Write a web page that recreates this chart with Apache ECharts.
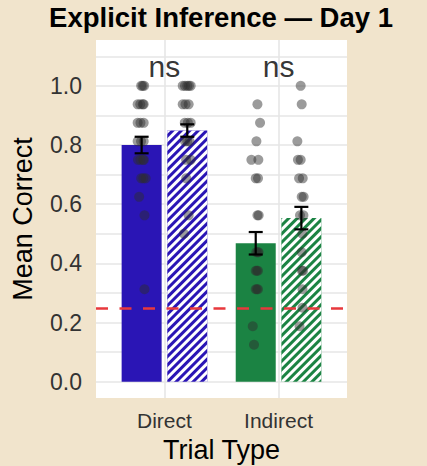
<!DOCTYPE html>
<html>
<head>
<meta charset="utf-8">
<script src="https://cdn.jsdelivr.net/npm/echarts@6/dist/echarts.min.js"></script>
<style>
html,body{margin:0;padding:0;background:#F1E4CC;}
#chart{width:427px;height:466px;}
</style>
</head>
<body>
<div id="chart"></div>
<script>
// ---------- data ----------
const categories = ['Direct', 'Indirect'];
const meanSolid   = [0.800, 0.468];
const seSolid     = [0.028, 0.038];
const meanHatched = [0.849, 0.553];
const seHatched   = [0.021, 0.038];
const chanceLevel = 0.25;
const sigLabels = ['ns', 'ns'];
const sigY = 1.064;
const yTickLabels = [0.0, 0.2, 0.4, 0.6, 0.8, 1.0];
const yGrid = [0.0, 0.1, 0.2, 0.3, 0.4, 0.5, 0.6, 0.7, 0.8, 0.9, 1.0, 1.1];

// individual participant scores (with horizontal jitter, in category units)
const directSolidScores  = [1,1,1,.9375,.9375,.9375,.9375,.875,.875,.875,.8125,.8125,.8125,.75,.75,.75,.75,.6875,.6875,.6875,.625,.5625,.3125];
const directSolidJitter  = [-0.004,0.009,0.022,-0.035,-0.012,0.010,0.018,-0.035,-0.010,0.018,-0.035,-0.005,0.018,-0.032,-0.010,0.012,0.020,-0.004,0.015,0.035,-0.022,0.025,0.025];
const directHatchScores  = [1,1,1,1,1,.9375,.9375,.9375,.875,.875,.875,.8125,.8125,.8125,.75,.75,.6875,.5625,.5];
const directHatchJitter  = [-0.040,-0.020,0.000,0.015,0.030,-0.040,-0.015,0.012,-0.022,0.005,0.030,-0.020,0.000,0.020,-0.010,0.030,-0.009,0.012,-0.029];
const indirectSolidScores = [.9375,.875,.8125,.75,.75,.6875,.6875,.5625,.5625,.4375,.4375,.4375,.375,.375,.375,.3125,.3125,.3125,.1875,.125];
const indirectSolidJitter = [0.015,0.038,0.006,-0.038,0.023,0.000,0.020,0.015,0.026,0.005,0.018,0.025,0.000,0.010,0.020,0.000,0.010,0.020,-0.026,-0.015];
const indirectHatchScores = [1,.9375,.8125,.75,.75,.6875,.6875,.625,.625,.5625,.5625,.5,.4375,.375,.375,.3125,.25,.1875];
const indirectHatchJitter = [-0.006,0.003,-0.035,-0.030,-0.006,-0.020,0.012,0.003,0.020,-0.012,0.018,0.009,0.003,0.005,0.015,0.010,0.010,-0.016];

// ---------- styling ----------
const FONT = 'Liberation Sans, Arial, Helvetica, sans-serif';
const catColors = ['#2A15B5', '#1B8343'];
const dodge = 0.2;

const chart = echarts.init(document.getElementById('chart'), null, {renderer: 'svg'});

function catX(i) { return i + 1; }

const barData = [];
const errData = [];
categories.forEach((c, i) => {
  barData.push({value: [catX(i) - dodge, meanSolid[i]],
    itemStyle: {color: catColors[i]}});
  barData.push({value: [catX(i) + dodge, meanHatched[i]],
    itemStyle: {color: catColors[i], decal: {
      symbol: 'rect', symbolSize: 1, color: '#ffffff',
      dashArrayX: [1, 0], dashArrayY: [2.1, 2.1], rotation: -Math.PI / 4}}});
  errData.push([catX(i) - dodge, meanSolid[i] - seSolid[i], meanSolid[i] + seSolid[i]]);
  errData.push([catX(i) + dodge, meanHatched[i] - seHatched[i], meanHatched[i] + seHatched[i]]);
});

function pts(scores, jitter, x) {
  return scores.map((s, k) => [x + jitter[k], s]);
}
const dotData = [].concat(
  pts(directSolidScores, directSolidJitter, catX(0) - dodge),
  pts(directHatchScores, directHatchJitter, catX(0) + dodge),
  pts(indirectSolidScores, indirectSolidJitter, catX(1) - dodge),
  pts(indirectHatchScores, indirectHatchJitter, catX(1) + dodge)
);

const option = {
  backgroundColor: '#F1E4CC',
  animation: false,
  title: {
    text: 'Explicit Inference — Day 1',
    left: 221, top: 3, padding: 0, textAlign: 'center',
    textStyle: {fontFamily: FONT, fontSize: 27.5, fontWeight: 'bold', color: '#000'}
  },
  grid: {
    left: 96, right: 80, top: 40, bottom: 68,
    show: true, backgroundColor: '#ffffff', borderWidth: 0,
    containLabel: false, outerBoundsMode: 'none'
  },
  xAxis: {
    type: 'value', min: 0.4, max: 2.6,
    name: 'Trial Type', nameLocation: 'middle', nameGap: 38,
    nameTextStyle: {fontFamily: FONT, fontSize: 27, color: '#000'},
    axisLine: {show: false},
    axisTick: {show: false, customValues: categories.map((c, i) => catX(i))},
    axisLabel: {customValues: categories.map((c, i) => catX(i)),
      formatter: v => categories[Math.round(v) - 1] || '',
      fontFamily: FONT, fontSize: 21, color: '#333333', margin: 12},
    splitLine: {show: true, lineStyle: {color: '#E6E6E6', width: 1.6}}
  },
  yAxis: {
    type: 'value', min: -0.055, max: 1.155,
    name: 'Mean Correct', nameLocation: 'middle', nameGap: 60, nameRotate: 90,
    nameTextStyle: {fontFamily: FONT, fontSize: 27, color: '#000'},
    axisLine: {show: false},
    axisTick: {show: false, customValues: yGrid},
    axisLabel: {customValues: yTickLabels, formatter: v => v.toFixed(1),
      fontFamily: FONT, fontSize: 23, color: '#333333', margin: 14},
    splitLine: {show: true, lineStyle: {color: '#E6E6E6', width: 1.6}}
  },
  series: [
    {
      type: 'bar', data: barData, barWidth: 40, z: 2
    },
    {
      type: 'line', data: [], z: 3, silent: true,
      markLine: {
        silent: true, symbol: ['none', 'none'], label: {show: false},
        lineStyle: {color: '#E8383D', width: 2.6, type: [12, 11.5]},
        data: [{yAxis: chanceLevel}]
      }
    },
    {
      type: 'scatter', data: dotData, z: 4, symbolSize: 10,
      itemStyle: {color: '#2E2E2E', opacity: 0.48}
    },
    {
      type: 'custom', z: 5, data: errData,
      renderItem: function (params, api) {
        const x = api.value(0);
        const lo = api.coord([x, api.value(1)]);
        const hi = api.coord([x, api.value(2)]);
        const hw = 7;
        const st = {stroke: '#000', lineWidth: 2.2};
        return {type: 'group', children: [
          {type: 'line', shape: {x1: lo[0], y1: lo[1], x2: hi[0], y2: hi[1]}, style: st},
          {type: 'line', shape: {x1: lo[0] - hw, y1: lo[1], x2: lo[0] + hw, y2: lo[1]}, style: st},
          {type: 'line', shape: {x1: hi[0] - hw, y1: hi[1], x2: hi[0] + hw, y2: hi[1]}, style: st}
        ]};
      }
    },
    {
      type: 'scatter', z: 6, symbolSize: 0, silent: true,
      data: sigLabels.map((s, i) => ({value: [catX(i), sigY], name: s})),
      label: {show: true, position: 'inside', formatter: p => p.name,
        fontFamily: FONT, fontSize: 30, color: '#000'}
    }
  ]
};
chart.setOption(option);
</script>
</body>
</html>
